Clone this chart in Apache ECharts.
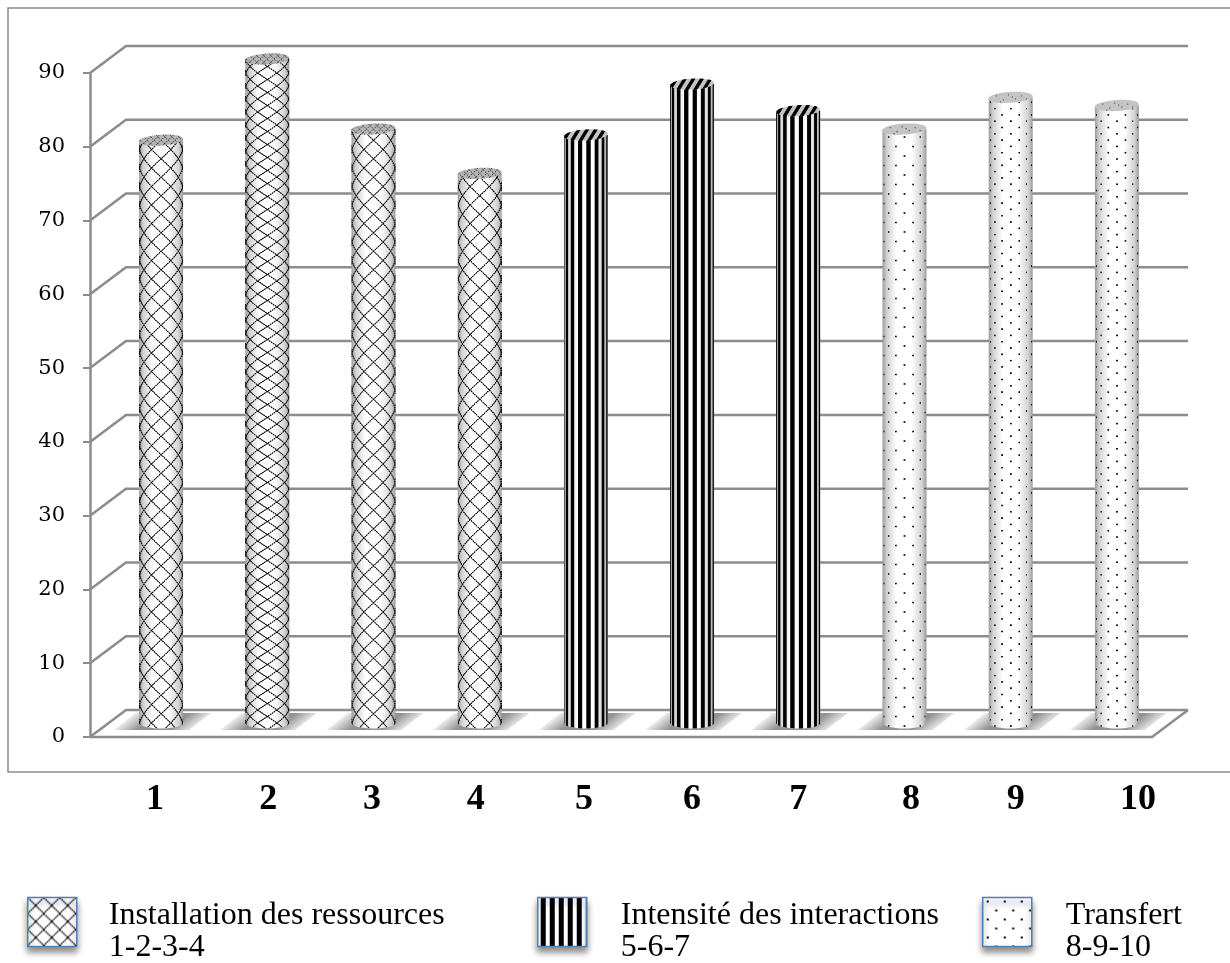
<!DOCTYPE html>
<html><head><meta charset="utf-8">
<style>html,body{margin:0;padding:0;background:#fff}#c{width:1230px;height:963px}</style>
<script src="https://cdn.jsdelivr.net/npm/echarts@6/dist/echarts.min.js"></script>
</head><body><div id="c"></div>
<script>
const categories = ['1','2','3','4','5','6','7','8','9','10'];
const labelNudges = [-6,1,-1.5,-4,-2,0,0,6.5,5,21];
const yTicks = [0,10,20,30,40,50,60,70,80,90];
const resourcesValues = [79,90,80.5,74.5];
const interactionValues = [79.7,86.6,83];
const transferValues = [80.5,84.8,83.7];
const resourcesName = 'Installation des ressources\n1-2-3-4';
const interactionName = 'Intensité des interactions\n5-6-7';
const transferName = 'Transfert\n8-9-10';
const GREY = '#8c8c8c';
const DEPTH_X = 36, DEPTH_Y = 27, MID_Y = 14, R = 22, RY = 5.5, SCALE = 2;

function tile(w, h, draw) {
  const c = document.createElement('canvas'); c.width = w; c.height = h;
  const g = c.getContext('2d'); g.fillStyle = '#fff'; g.fillRect(0,0,w,h); draw(g); return c;
}
const crossTile = tile(16,16,g=>{g.strokeStyle='#000';g.lineWidth=1.3;g.setLineDash([1.8,0.6]);
  g.beginPath();g.moveTo(0,0);g.lineTo(16,16);g.moveTo(16,0);g.lineTo(0,16);g.stroke();});
const stripeTile = tile(9,9,g=>{g.fillStyle='#000';g.fillRect(3,0,5,9);});
const dotTile = tile(17,18,g=>{g.fillStyle='#000';g.fillRect(4,3,2,2);g.fillRect(12.5,12,2,2);});

function texture(kind, density, h) {
  const W = R*2+2, H = Math.ceil(h+8+RY+1);
  const c = document.createElement('canvas'); c.width = W*SCALE; c.height = H*SCALE;
  const g = c.getContext('2d'); g.scale(SCALE,SCALE);
  const cx = W/2, ty = 8, by = 8+h;
  g.save();
  g.beginPath(); g.moveTo(cx-R,ty); g.lineTo(cx+R,ty); g.lineTo(cx+R,by);
  g.ellipse(cx,by,R,RY,0,0,Math.PI); g.closePath(); g.clip();
  if (kind==='cross') {
    const dp = 0.9, k = dp/density;
    g.strokeStyle='#000'; g.lineWidth=1.1; g.setLineDash([1.8,0.5]);
    [1,-1].forEach(s=>{
      const nmax = Math.ceil((k*h+3)/dp)+2;
      for(let n=-nmax;n<=nmax;n++){
        g.beginPath(); let on=false;
        for(let y=ty-2;y<=by+8;y+=0.5){
          const phi=s*k*(y-by)+n*dp+dp/2;
          if(Math.abs(phi)<Math.PI/2){const x=cx+R*Math.sin(phi);
            if(on)g.lineTo(x,y);else{g.moveTo(x,y);on=true;}} else on=false;
        }
        g.stroke();
      }
    });
  } else if (kind==='stripe') {
    g.fillStyle='#000';
    for(let n=-5;n<=5;n++){
      const a=n*0.39+0.02, b=a+0.2;
      if(Math.abs(a)>=Math.PI/2) continue;
      const x1=cx+R*Math.sin(a), x2=cx+R*Math.sin(Math.min(b,Math.PI/2));
      g.fillRect(x1,ty-2,x2-x1,h+RY+6);
    }
  } else {
    g.fillStyle='#000'; let row=0;
    for(let y=by+3;y>ty-2;y-=density){
      for(let n=-5;n<=5;n++){
        const phi=(n+(row%2?0.5:0))*0.8;
        if(Math.abs(phi)<Math.PI/2){const x=cx+R*Math.sin(phi);
          const dw=1.8*Math.max(0.55,Math.cos(phi));g.fillRect(x-dw/2,y-0.8,dw,1.6);}
      }
      row++;
    }
  }
  g.restore();
  g.save();
  g.beginPath(); g.ellipse(cx,ty,R,RY,-0.06,0,Math.PI*2); g.clip();
  g.clearRect(0,0,W,ty+RY+2);
  if(kind==='cross'){
    g.strokeStyle='#333';g.lineWidth=0.7;g.setLineDash([1.2,1]);
    g.beginPath();
    for(let x=-20;x<W+20;x+=7){g.moveTo(x,0);g.lineTo(x+16,16);g.moveTo(x,16);g.lineTo(x+16,0);}
    g.stroke();
  } else if(kind==='stripe'){
    g.strokeStyle='#000';g.lineWidth=3.4;g.beginPath();
    for(let x=-10;x<W+10;x+=8.5){g.moveTo(x,ty+9);g.lineTo(x+11,ty-9);}
    g.stroke();
  } else {
    g.fillStyle='#666';
    [[8,ty-2],[15,ty+2],[20,ty-3],[27,ty+1],[33,ty-2],[38,ty+1],[12,ty+4],[24,ty-1]].forEach(p=>g.fillRect(p[0],p[1],1.5,1.2));
  }
  g.restore();
  return {canvas:c,W,H};
}

const bodyFill = {type:'linear',x:0,y:0,x2:1,y2:0,colorStops:[
  {offset:0,color:'#9c9c9c'},{offset:0.1,color:'#d2d2d2'},{offset:0.32,color:'#fff'},
  {offset:0.66,color:'#fff'},{offset:0.9,color:'#d2d2d2'},{offset:1,color:'#9c9c9c'}]};

function cylinder(kind, topFill, densityOf) {
  return function(params, api){
    const i = api.value(0), v = api.value(1);
    const top = api.coord([i,v]), base = api.coord([i,0]);
    const cx = top[0], ty = top[1]-MID_Y, by = base[1]-MID_Y, h = by-ty;
    const t = texture(kind, densityOf(i), h);
    const ax = cx-22, ay = by-9;
    const shadowFill = {type:'linear',global:true,x:ax-4,y:ay-4,x2:ax+28,y2:ay+38,colorStops:[
      {offset:0,color:'rgba(105,105,105,0)'},{offset:0.32,color:'rgba(105,105,105,0.72)'},
      {offset:0.68,color:'rgba(105,105,105,0.72)'},{offset:1,color:'rgba(105,105,105,0)'}]};
    return {type:'group',children:[
      {type:'polygon',shape:{points:[[cx-47,by+7],[cx-26,by-10],[cx+50,by-10],[cx+28,by+7]]},
        style:{fill:shadowFill},z2:1},
      {type:'rect',shape:{x:cx-R,y:ty,width:R*2,height:h},style:{fill:bodyFill},z2:2},
      {type:'ellipse',shape:{cx:cx,cy:by,rx:R,ry:RY},style:{fill:bodyFill},z2:2},
      {type:'ellipse',shape:{cx:cx,cy:ty,rx:R,ry:RY},rotation:0.06,originX:cx,originY:ty,
        style:{fill:topFill},z2:3},
      {type:'image',style:{image:t.canvas,x:cx-t.W/2,y:ty-8,width:t.W,height:t.H},z2:4}
    ]};
  };
}

function rows(values, first){ return values.map((v,j)=>[first+j,v]); }

const legendRich = {
  s:{fontSize:1,lineHeight:20},
  t:{fontFamily:'Liberation Serif',fontSize:32,lineHeight:32,color:'#000'}
};
function legendText(name){
  return '{s|\u00a0}\n'+name.split('\n').map(line=>'{t|'+line+'}').join('\n');
}

const option = {
  animation:false,
  backgroundColor:'#fff',
  grid:{left:108,top:73,width:1062,height:664,containLabel:false},
  xAxis:{type:'category',data:categories.map((c,i)=>({value:c,textStyle:{
      padding:labelNudges[i]<0?[0,-2*labelNudges[i],0,0]:[0,0,0,2*labelNudges[i]]}})),
    axisLine:{show:false},axisTick:{show:false},
    axisLabel:{interval:0,margin:45,fontFamily:'Liberation Serif',fontWeight:'bold',fontSize:36,color:'#000'}},
  yAxis:{type:'value',min:0,max:90,interval:10,offset:18,splitLine:{show:false},
    axisLine:{show:true,lineStyle:{color:GREY,width:2.5}},
    axisTick:{show:true,length:7,lineStyle:{color:GREY,width:2}},
    axisLabel:{margin:25,fontFamily:'DejaVu Serif',fontSize:21,color:'#000'}},
  legend:[
    {left:27,top:889.5,data:[resourcesName]},
    {left:537,top:889.5,data:[interactionName]},
    {left:982,top:889.5,data:[transferName]}
  ].map((l,i)=>Object.assign(l,{
    icon:'rect',itemWidth:49,itemHeight:49,selectedMode:false,padding:0,formatter:legendText,
    itemStyle:{color:{image:[crossTile,stripeTile,dotTile][i],repeat:'repeat'},borderColor:'#4f81bd',borderWidth:1.5,
      shadowBlur:6,shadowOffsetY:5,shadowColor:'rgba(0,0,0,0.45)'},
    textStyle:{fontFamily:'Liberation Serif',fontSize:32,color:'#000',padding:[0,0,0,[27,29,29][i]],rich:legendRich}
  })),
  graphic:[{type:'rect',silent:true,z:-1,shape:{x:8,y:8,width:1260,height:764},
    style:{fill:'none',stroke:GREY,lineWidth:1.5}}],
  series:[
    {type:'custom',name:'grille',z:1,silent:true,data:yTicks.map(t=>[0,t]),
     renderItem:function(params,api){
       const cs=params.coordSys, y=api.coord([0,api.value(1)])[1], x0=cs.x-18, x1=cs.x+cs.width-18;
       const st={fill:'none',stroke:GREY,lineWidth:2.5};
       const kids=[{type:'polyline',shape:{points:[[x0,y],[x0+DEPTH_X,y-DEPTH_Y],[x1+DEPTH_X,y-DEPTH_Y]]},style:st}];
       if(api.value(1)===0) kids.push({type:'polyline',shape:{points:[[x0,y],[x1,y],[x1+DEPTH_X,y-DEPTH_Y]]},style:st});
       return {type:'group',children:kids};
     }},
    {type:'custom',name:resourcesName,z:2,data:rows(resourcesValues,0),
     renderItem:cylinder('cross','#b4b4b4',i=>i===1?13:18.5)},
    {type:'custom',name:interactionName,z:2,data:rows(interactionValues,4),
     renderItem:cylinder('stripe','#c4c4c4',()=>0)},
    {type:'custom',name:transferName,z:2,data:rows(transferValues,7),
     renderItem:cylinder('dot','#c4c4c4',i=>i===7?9.5:6.3)}
  ]
};
const chart = echarts.init(document.getElementById('c'));
chart.setOption(option);
</script></body></html>
